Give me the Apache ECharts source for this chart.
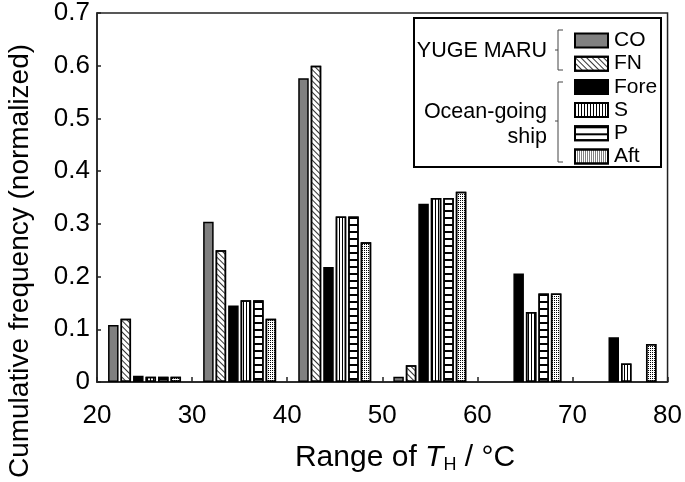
<!DOCTYPE html>
<html><head><meta charset="utf-8">
<script src="https://cdn.jsdelivr.net/npm/echarts@6/dist/echarts.min.js"></script>
<style>html,body{margin:0;padding:0;background:#fff}#c{width:685px;height:482px}</style>
</head><body><div id="c"></div>
<script>
const categories = ['20-30', '30-40', '40-50', '50-60', '60-70', '70-80'];
const xTickMin = 20, xTickMax = 80, xTickStep = 10;
const yTickMin = 0, yTickMax = 0.7, yTickStep = 0.1;
const seriesNames = ['CO', 'FN', 'Fore', 'S', 'P', 'Aft'];
const CO   = [0.108, 0.304, 0.576, 0.010, null, null];
const FN   = [0.120, 0.250, 0.600, 0.032, null, null];
const Fore = [0.012, 0.145, 0.218, 0.338, 0.206, 0.085];
const S    = [0.010, 0.155, 0.314, 0.349, 0.133, 0.035];
const P    = [0.010, 0.155, 0.314, 0.349, 0.168, null];
const Aft  = [0.010, 0.120, 0.265, 0.361, 0.168, 0.072];

const FONT = "'Liberation Sans', Arial, sans-serif";
const styles = {
  CO:   { color: '#808080' },
  FN:   { color: '#fff', decal: { symbol: 'rect', symbolSize: 1, color: '#333', dashArrayX: [1, 0], dashArrayY: [1, 3], rotation: Math.PI / 4 } },
  Fore: { color: '#000' },
  S:    { color: '#fff', decal: { symbol: 'rect', symbolSize: 1, color: '#000', dashArrayX: [1, 2], dashArrayY: [1, 0], rotation: 0 } },
  P:    { color: '#fff', decal: { symbol: 'rect', symbolSize: 1, color: '#000', dashArrayX: [1, 0], dashArrayY: [2, 5], rotation: 0 } },
  Aft:  { color: '#fff', decal: { symbol: 'rect', symbolSize: 1, color: '#000', dashArrayX: [1, 1], dashArrayY: [1, 1], rotation: 0 } }
};
const values = { CO, FN, Fore, S, P, Aft };

const chart = echarts.init(document.getElementById('c'), null, { renderer: 'canvas' });
chart.setOption({
  animation: false,
  textStyle: { fontFamily: FONT, color: '#000' },
  grid: { left: 97, right: 16, top: 13, bottom: 100, show: true, borderColor: '#222', borderWidth: 1.5, backgroundColor: 'transparent' },
  xAxis: [
    { type: 'category', data: categories, show: false, axisTick: { show: false }, axisLine: { show: false } },
    { type: 'value', min: xTickMin, max: xTickMax, interval: xTickStep, position: 'bottom',
      axisLine: { show: true, lineStyle: { color: '#222', width: 1.5 } },
      axisTick: { show: true, inside: true, length: 5, lineStyle: { color: '#222', width: 1.5 } },
      splitLine: { show: false },
      axisLabel: { fontSize: 26, color: '#000', margin: 21, fontFamily: FONT } }
  ],
  yAxis: {
    type: 'value', min: yTickMin, max: yTickMax, interval: yTickStep,
    axisLine: { show: true, lineStyle: { color: '#222', width: 1.5 } },
    axisTick: { show: true, inside: true, length: 4, lineStyle: { color: '#222', width: 1.5 } },
    splitLine: { show: false },
    axisLabel: { fontSize: 26, color: '#000', margin: 7, fontFamily: FONT, formatter: v => (Math.round(v * 10) / 10).toString() }
  },
  legend: {
    data: seriesNames, orient: 'vertical', left: 569, top: 25,
    itemWidth: 33, itemHeight: 14, itemGap: 2.2, icon: 'rect',
    textStyle: { fontSize: 21, color: '#000', fontFamily: FONT, padding: [0, 0, 0, 1] }
  },
  series: seriesNames.map(name => ({
    name, type: 'bar', xAxisIndex: 0, data: values[name],
    barWidth: 10.5, barGap: '19%',
    itemStyle: Object.assign({ borderColor: '#000', borderWidth: 1.5 }, styles[name])
  })),
  graphic: [
    { type: 'rect', shape: { x: 414, y: 18, width: 247, height: 149 }, style: { fill: 'none', stroke: '#000', lineWidth: 2 }, z: 10 },
    { type: 'text', x: 547, y: 51, style: { text: 'YUGE MARU', font: `21.5px ${FONT}`, fill: '#000', textAlign: 'right', textVerticalAlign: 'middle' }, z: 10 },
    { type: 'text', x: 547, y: 112, style: { text: 'Ocean-going', font: `21.5px ${FONT}`, fill: '#000', textAlign: 'right', textVerticalAlign: 'middle' }, z: 10 },
    { type: 'text', x: 547, y: 137, style: { text: 'ship', font: `21.5px ${FONT}`, fill: '#000', textAlign: 'right', textVerticalAlign: 'middle' }, z: 10 },
    { type: 'polyline', shape: { points: [[563, 30], [558, 30], [558, 70], [563, 70]] }, style: { stroke: '#444', lineWidth: 1, fill: 'none' }, z: 10 },
    { type: 'polyline', shape: { points: [[555, 50], [558, 50]] }, style: { stroke: '#444', lineWidth: 1, fill: 'none' }, z: 10 },
    { type: 'polyline', shape: { points: [[563, 82], [558, 82], [558, 162], [563, 162]] }, style: { stroke: '#444', lineWidth: 1, fill: 'none' }, z: 10 },
    { type: 'polyline', shape: { points: [[555, 121], [558, 121]] }, style: { stroke: '#444', lineWidth: 1, fill: 'none' }, z: 10 },
    { type: 'text', x: 20, y: 261, rotation: Math.PI / 2,
      style: { text: 'Cumulative frequency (normalized)', font: `28px ${FONT}`, fill: '#000', textAlign: 'center', textVerticalAlign: 'middle' } },
    { type: 'text', x: 405, y: 458,
      style: { text: '{n|Range of }{i|T}{s|H}{n| / °C}', textAlign: 'center', textVerticalAlign: 'middle', fill: '#000',
        rich: {
          n: { fontSize: 30, fontFamily: FONT, fill: '#000' },
          i: { fontSize: 30, fontFamily: FONT, fontStyle: 'italic', fill: '#000' },
          s: { fontSize: 18, fontFamily: FONT, fill: '#000', verticalAlign: 'bottom', padding: [14, 0, 0, 0] }
        } } }
  ]
});
</script></body></html>
